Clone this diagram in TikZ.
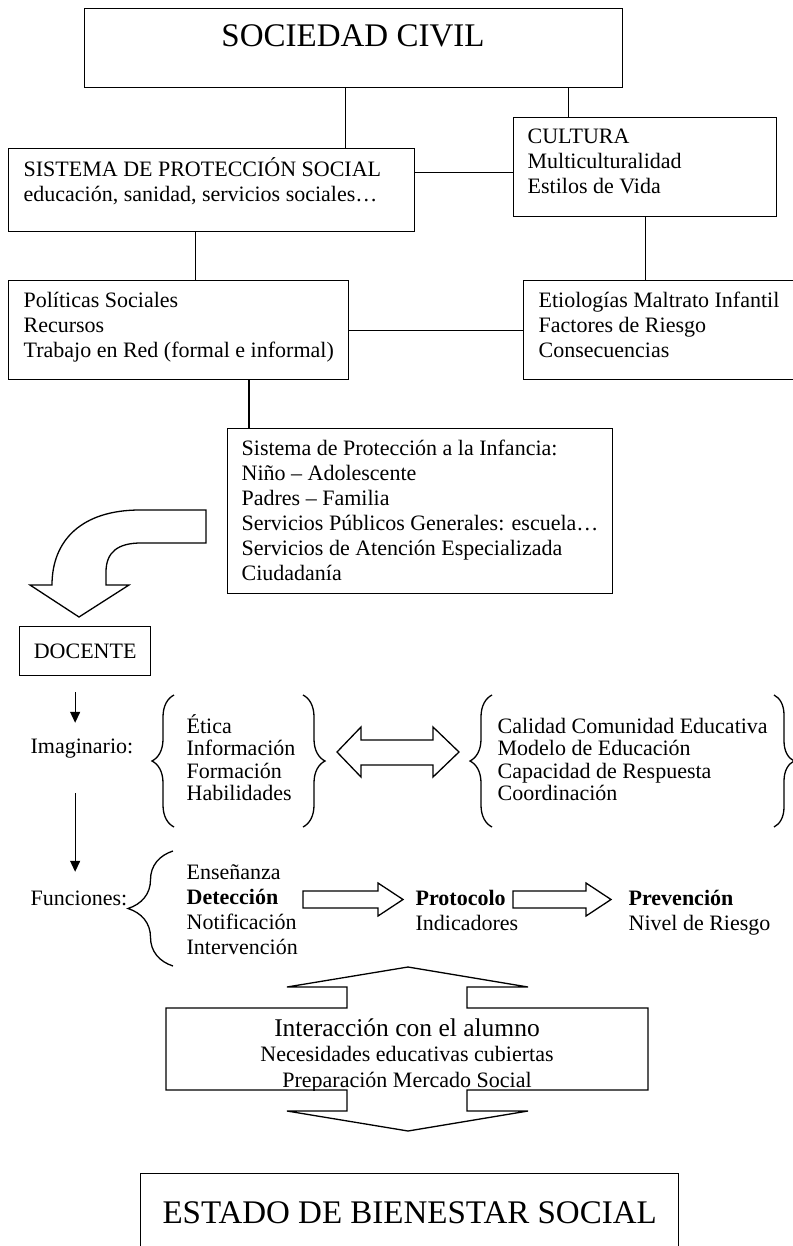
\documentclass[tikz,border=0pt]{standalone}
\usepackage{fontspec}
\setmainfont{Liberation Serif}
\usetikzlibrary{arrows.meta,calc,decorations.pathreplacing}

\tikzset{
  caja/.style={draw,anchor=north west,inner sep=0pt},
  txt/.style={inner sep=0pt,align=left,anchor=base west},
  llave/.style={decorate,decoration={brace,amplitude=#1}},
  llave/.default=22pt,
  flecha/.style={-{Triangle[width=10pt,length=11pt]}},
  bloque/.style={draw,fill=white,line join=miter}
}

\begin{document}
\begin{tikzpicture}[x=1pt,y=-1pt,line width=1.3pt,
  every node/.style={font=\fontsize{22}{25}\selectfont}]
\fill[white] (0,0) rectangle (792,1246);
\useasboundingbox (0,0) rectangle (792,1246);

% cajas de arriba (texto: base de la ultima linea)
\node[caja,minimum width=538pt,minimum height=79pt] (sociedad) at (84,8) {};
\node[inner sep=0pt,anchor=base,font=\fontsize{33}{38}\selectfont] (soctxt) at (353,47) {SOCIEDAD CIVIL};
\node[caja,minimum width=406pt,minimum height=83pt] (sistema) at (8,148) {};
\node[txt] (sistxt) at (23,202) {SISTEMA DE PROTECCIÓN SOCIAL\\educación, sanidad, servicios sociales…};
\node[caja,minimum width=263pt,minimum height=99pt] (cultura) at (513,117) {};
\node[txt] (cultxt) at (527,194) {CULTURA\\Multiculturalidad\\Estilos de Vida};
\node[caja,minimum width=340pt,minimum height=99pt] (politicas) at (8,280) {};
\node[txt] (poltxt) at (23,357) {Políticas Sociales\\Recursos\\Trabajo en Red (formal e informal)};
\node[caja,minimum width=273pt,minimum height=99pt] (etiologias) at (523,280) {};
\node[txt] (etitxt) at (538,357) {Etiologías Maltrato Infantil\\Factores de Riesgo\\Consecuencias};
\node[caja,minimum width=385pt,minimum height=165pt] (infancia) at (227,428) {};
\node[txt] (inftxt) at (241,580) {Sistema de Protección a la Infancia:\\Niño – Adolescente\\Padres – Familia\\Servicios Públicos Generales: escuela…\\Servicios de Atención Especializada\\Ciudadanía};

% lineas
\coordinate (s1) at ([xshift=-8pt]sociedad.south);
\draw (s1) -- (s1 |- sistema.north);
\coordinate (s2) at ([xshift=-55pt]sociedad.south east);
\draw (s2) -- (s2 |- cultura.north);
\coordinate (c1) at ([yshift=-5.5pt]cultura.west);
\draw (c1) -- (c1 -| sistema.east);
\coordinate (m1) at ($(sistema.south)!.5!(politicas.north)$);
\draw (sistema.south -| m1) -- (politicas.north -| m1);
\draw (cultura.south) -- (cultura.south |- etiologias.north);
\draw (politicas.east) -- (etiologias.west);
\coordinate (i1) at ([xshift=22pt]infancia.north west);
\draw (i1) -- (i1 |- politicas.south);

% flecha curva
\draw[bloque] (206,510) -- (140,510) .. controls (82,510) and (52,540) .. (52,585)
  -- (30,585) -- (79,617) -- (129,585) -- (106,585) -- (106,572)
  .. controls (106,552) and (118,543) .. (141,543) -- (206,543) -- cycle;

\node[caja,minimum width=131pt,minimum height=49pt] (docente) at (19,626) {DOCENTE};

% imaginario
\node[txt] (imag) at (30,753) {Imaginario:};
\coordinate (col) at ([xshift=-10pt]docente.south);
\draw[flecha,shorten <=16pt,shorten >=15pt] (col) -- (col |- imag.north);
\draw[llave] (174,827) -- (174,695);
\node[txt,font=\fontsize{22}{22.5}\selectfont] (etica) at (186,800.5) {Ética\\Información\\Formación\\Habilidades};
\draw[llave] (303,695) -- (303,827);
\draw[bloque] (337,752) -- (361,727) -- (361,740) -- (433,740) -- (433,727) -- (459,752)
  -- (433,777) -- (433,765) -- (361,765) -- (361,777) -- cycle;
\draw[llave] (492,827) -- (492,695);
\node[txt,font=\fontsize{22}{22.5}\selectfont] (calidad) at (497,800.5) {Calidad Comunidad Educativa\\Modelo de Educación\\Capacidad de Respuesta\\Coordinación};
\draw[llave=20pt] (774,695) -- (774,827);

% funciones
\node[txt] (func) at (30,905) {Funciones:};
\draw[flecha,shorten <=35pt,shorten >=18pt] (col |- imag.south) -- (col |- func.north);
\draw[llave=45pt] (173,966) -- (173,851);
\node[txt] (funlist) at (186,954) {Enseñanza\\\textbf{Detección}\\Notificación\\Intervención};
\draw[bloque] (303,891) -- (378,891) -- (378,883) -- (403,899.5) -- (378,916) -- (378,908) -- (303,908) -- cycle;
\node[txt] (protocolo) at (415,930) {\textbf{Protocolo}\\Indicadores};
\draw[bloque] (513,891) -- (586,891) -- (586,883) -- (611,899.5) -- (586,916) -- (586,908) -- (513,908) -- cycle;
\node[txt] (prevencion) at (628,930) {\textbf{Prevención}\\Nivel de Riesgo};

% interaccion
\draw[bloque] (408,967) -- (528,987) -- (467,987) -- (467,1008) -- (648,1008) -- (648,1090)
  -- (467,1090) -- (467,1111) -- (528,1111) -- (408,1131) -- (287,1111) -- (347,1111)
  -- (347,1090) -- (166,1090) -- (166,1008) -- (347,1008) -- (347,987) -- (287,987) -- cycle;
\begin{scope}
\clip (166,1008) rectangle (648,1090);
\node[inner sep=0pt,anchor=base,font=\fontsize{25.5}{28}\selectfont] (interaccion) at (407,1036) {Interacción con el alumno};
\node[inner sep=0pt,anchor=base] (necesidades) at (407,1061) {Necesidades educativas cubiertas};
\node[inner sep=0pt,anchor=base] (mercado) at (407,1087) {Preparación Mercado Social};
\end{scope}

\node[caja,minimum width=538pt,minimum height=78pt,font=\fontsize{33}{38}\selectfont] (estado) at (140,1173) {ESTADO DE BIENESTAR SOCIAL};
\end{tikzpicture}
\end{document}
